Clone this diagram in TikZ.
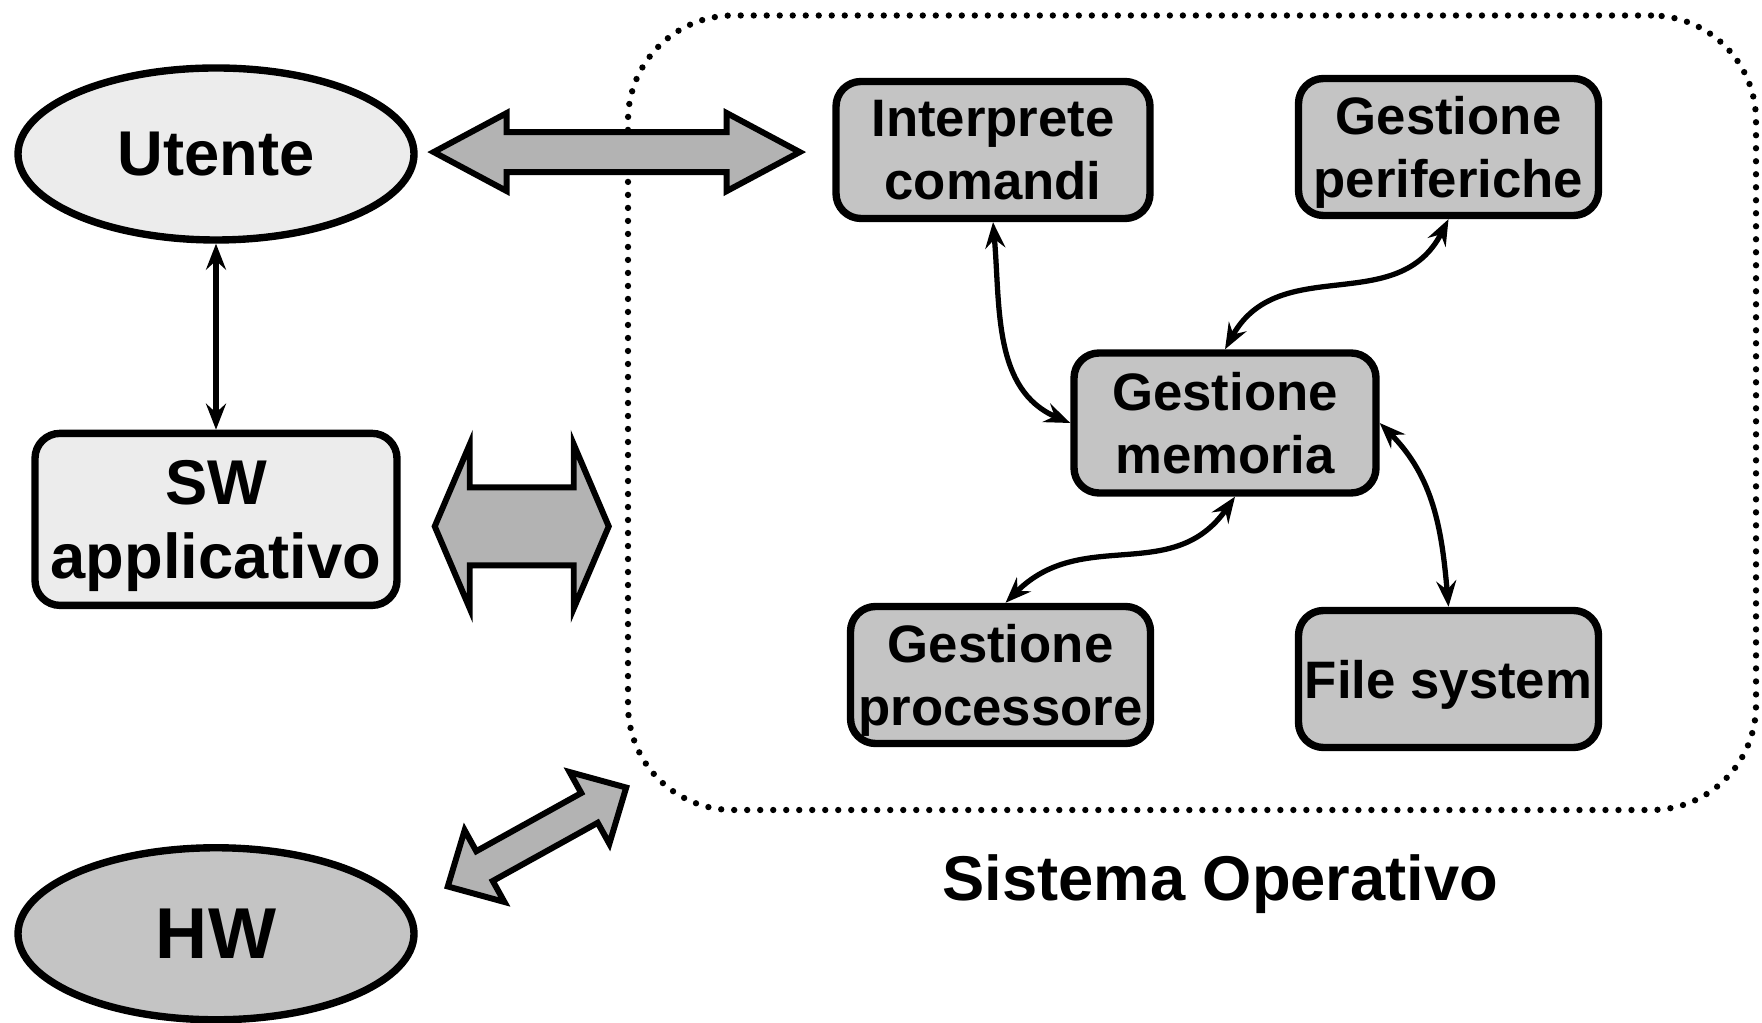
\documentclass[tikz,border=0pt]{standalone}
\usepackage{fontspec}
\setmainfont{Liberation Sans}
\usepackage{tikz}
\usetikzlibrary{shapes.geometric, arrows.meta, calc, positioning}
\definecolor{lightfill}{RGB}{236,236,236}
\definecolor{boxfill}{RGB}{196,196,196}
\definecolor{arrowfill}{RGB}{179,179,179}
\tikzset{
  pics/bigarrow/.style args={#1/#2/#3/#4}{code={
    \draw[fatarrow] (-#1,0) -- (-#1+#2,#3) -- (-#1+#2,#4) -- (#1-#2,#4)
      -- (#1-#2,#3) -- (#1,0) -- (#1-#2,-#3) -- (#1-#2,-#4)
      -- (-#1+#2,-#4) -- (-#1+#2,-#3) -- cycle;
  }}
}

\begin{document}
\begin{tikzpicture}[
  >={Stealth[length=2.6mm,width=2mm,inset=0.9mm]},
  user/.style = {ellipse,draw,line width=2.1pt,fill=lightfill,inner sep=0pt,
        minimum width=3.96cm,minimum height=1.72cm,
        font=\fontsize{18}{21}\selectfont\bfseries},
  hwnode/.style = {user,fill=boxfill,font=\fontsize{20.5}{24}\selectfont\bfseries},
  appbox/.style = {draw,line width=2.1pt,rounded corners=0.25cm,fill=lightfill,
        inner sep=0pt,text depth=0pt,minimum width=3.62cm,minimum height=1.72cm,
        align=center,font=\fontsize{18}{21}\selectfont\bfseries},
  osbox/.style = {draw,line width=2.1pt,rounded corners=0.25cm,fill=boxfill,
        inner sep=0pt,text depth=0pt,minimum width=3.0cm,minimum height=1.37cm,
        align=center,font=\fontsize{15}{18}\selectfont\bfseries},
  osarea/.style = {draw,line width=1.8pt,dash pattern=on 0pt off 3.7pt,
        line cap=round,rounded corners=1.05cm,
        minimum width=11.28cm,minimum height=7.945cm},
  title/.style = {inner sep=0pt,anchor=base,font=\fontsize{18}{21}\selectfont\bfseries},
  fatarrow/.style = {draw,line width=1.7pt,fill=arrowfill,line join=miter},
  link/.style = {line width=1.5pt,<->}]
 \useasboundingbox (0,0) rectangle (17.62,-10.23);
 \node[osarea] (so) at (11.92,-4.1275) {};
 \node[title] (sotitle) at (12.205,-9.006) {Sistema Operativo};
 \node[user] (ut) at (2.16,-1.54) {Utente};
 \node[appbox,below=1.86cm of ut] (sw) {SW\\applicativo};
 \node[hwnode,below=2.35cm of sw] (hw) {HW};
 \node[osbox,minimum width=3.14cm] (int) at (9.93,-1.50) {Interprete\\comandi};
 \node[osbox] (per) at (14.485,-1.47) {Gestione\\periferiche};
 \node[osbox,minimum width=3.02cm,minimum height=1.4cm] (mem) at (12.25,-4.23) {Gestione\\memoria};
 \node[osbox] (proc) at (10.005,-6.75) {Gestione\\processore};
 \node[osbox] (fs) at (14.485,-6.79) {File system};
 \pic at ($(ut.east)!.48!(int.west)$) {bigarrow=1.83/0.73/0.39/0.20};
 \pic at ($(sw.east)!.54!(sw.east -| so.west)+(0,-.07)$) {bigarrow=0.87/0.35/0.82/0.39};
 \pic[rotate=29] at (5.37,-8.37) {bigarrow=1.02/0.42/0.41/0.17};
 \begin{scope}[link]
  \path
  (ut) edge (sw)
  (int.south) edge[out=-85,in=157] (mem.west)
  (per.south) edge[out=-117,in=61,looseness=1.1] (mem.north)
  ([xshift=1mm]mem.south) edge[out=-125,in=45,looseness=1.1] ([xshift=.5mm]proc.north)
  (mem.east) edge[out=-45,in=95] (fs.north);
 \end{scope}
\end{tikzpicture}
\end{document}
